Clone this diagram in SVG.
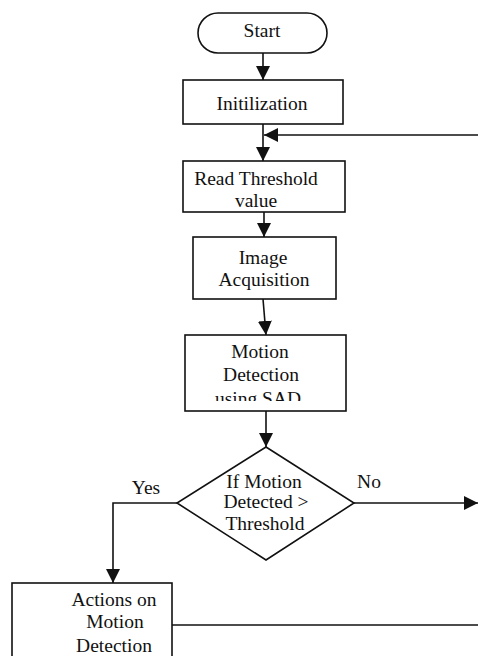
<svg xmlns="http://www.w3.org/2000/svg" width="478" height="656" viewBox="0 0 478 656">
<style>
.box{fill:#fff;stroke:#111;stroke-width:1.6}
.ln{fill:none;stroke:#111;stroke-width:1.6}
text{font-family:"Liberation Serif","Times New Roman",serif;font-size:19.5px;fill:#111;text-anchor:middle}
</style>
<defs>
<marker id="ahb" viewBox="0 0 10 10" refX="10" refY="5" markerWidth="14" markerHeight="14" markerUnits="userSpaceOnUse" orient="auto">
<path d="M0,0 L10,5 L0,10 Z" fill="#111"/>
</marker>
<clipPath id="mdclip"><rect x="186" y="336" width="159" height="65"/></clipPath>
</defs>
<rect width="478" height="656" fill="#fff"/>
<g id="connectors">
<path class="ln" d="M263,53 V80" marker-end="url(#ahb)"/>
<path class="ln" d="M263,124 V161" marker-end="url(#ahb)"/>
<path class="ln" d="M478,135 H264" marker-end="url(#ahb)"/>
<path class="ln" d="M264,212 V237" marker-end="url(#ahb)"/>
<path class="ln" d="M263,299 L266,335" marker-end="url(#ahb)"/>
<path class="ln" d="M266,411 V447" marker-end="url(#ahb)"/>
<path class="ln" d="M177,503 H113 V583" marker-end="url(#ahb)"/>
<path class="ln" d="M354,503 H478" marker-end="url(#ahb)"/>
<path class="ln" d="M172,625 H478"/>
</g>
<g id="start">
<rect class="box" x="198" y="13" width="129" height="40" rx="20" ry="20"/>
<text x="262" y="37">Start</text>
</g>
<g id="init">
<rect class="box" x="183" y="80" width="160" height="44"/>
<text x="262" y="110">Initilization</text>
</g>
<g id="read">
<rect class="box" x="183" y="161" width="162" height="51"/>
<text x="256" y="185">Read Threshold</text>
<text x="256" y="207">value</text>
</g>
<g id="acq">
<rect class="box" x="193" y="237" width="143" height="62"/>
<text x="263" y="264">Image</text>
<text x="264" y="286">Acquisition</text>
</g>
<g id="motion">
<rect class="box" x="185" y="335" width="161" height="76"/>
<text x="260" y="358">Motion</text>
<text x="261" y="381">Detection</text>
<text x="258" y="405" clip-path="url(#mdclip)">using SAD</text>
</g>
<g id="decision">
<polygon class="box" points="266,447 354,503 266,560 177,503"/>
<text x="264" y="488">If Motion</text>
<text x="266" y="508">Detected &gt;</text>
<text x="265" y="530">Threshold</text>
<text x="146" y="494">Yes</text>
<text x="369" y="488">No</text>
</g>
<g id="actions">
<rect class="box" x="12" y="583" width="160" height="90"/>
<text x="114" y="606">Actions on</text>
<text x="115" y="628">Motion</text>
<text x="114" y="652">Detection</text>
</g>
</svg>
